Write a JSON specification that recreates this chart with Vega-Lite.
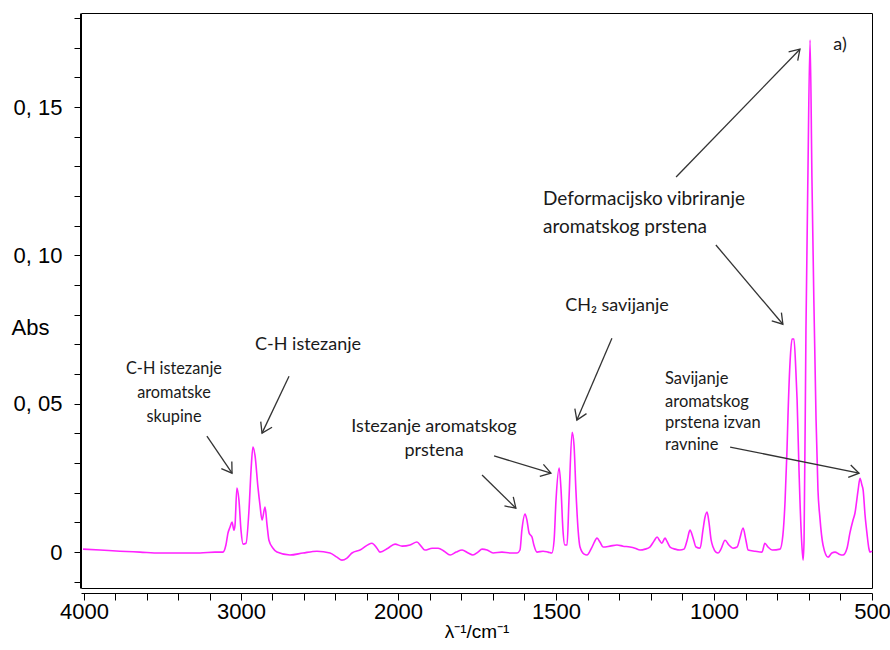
{
  "$schema": "https://vega.github.io/schema/vega-lite/v6.json",
  "width": 791,
  "height": 575,
  "autosize": "none",
  "padding": {"left": 81, "top": 13, "right": 18, "bottom": 62},
  "background": "white",
  "config": {
    "view": {"stroke": "black", "strokeWidth": 1},
    "axis": {"grid": false, "domainColor": "black", "tickColor": "black", "labelColor": "black", "titleColor": "black", "labelFont": "Liberation Sans", "titleFont": "Liberation Sans", "titleFontWeight": "normal"}
  },
  "datasets": {
    "spectrum": [
      {"wn": 4006, "abs": 0.0010}, {"wn": 3898, "abs": 0.0007}, {"wn": 3771, "abs": 0.0003}, {"wn": 3643, "abs": 0.0},
      {"wn": 3516, "abs": -0.0003}, {"wn": 3389, "abs": -0.0003}, {"wn": 3261, "abs": -0.0003}, {"wn": 3166, "abs": 0.0},
      {"wn": 3115, "abs": 0.0}, {"wn": 3096, "abs": 0.0024}, {"wn": 3083, "abs": 0.0064}, {"wn": 3070, "abs": 0.0084},
      {"wn": 3057, "abs": 0.0101}, {"wn": 3045, "abs": 0.0074}, {"wn": 3038, "abs": 0.0091}, {"wn": 3026, "abs": 0.0216},
      {"wn": 3013, "abs": 0.0175}, {"wn": 3000, "abs": 0.0074}, {"wn": 2987, "abs": 0.0027}, {"wn": 2968, "abs": 0.0030},
      {"wn": 2949, "abs": 0.0142}, {"wn": 2936, "abs": 0.0276}, {"wn": 2924, "abs": 0.0354}, {"wn": 2911, "abs": 0.0327},
      {"wn": 2892, "abs": 0.0219}, {"wn": 2879, "abs": 0.0158}, {"wn": 2866, "abs": 0.0108}, {"wn": 2847, "abs": 0.0152},
      {"wn": 2834, "abs": 0.0091}, {"wn": 2822, "abs": 0.0040}, {"wn": 2796, "abs": 0.0013}, {"wn": 2771, "abs": 0.0},
      {"wn": 2688, "abs": -0.0010}, {"wn": 2605, "abs": -0.0003}, {"wn": 2516, "abs": 0.0003}, {"wn": 2433, "abs": -0.0003},
      {"wn": 2389, "abs": -0.0017}, {"wn": 2357, "abs": -0.0027}, {"wn": 2325, "abs": -0.0020}, {"wn": 2293, "abs": -0.0003},
      {"wn": 2242, "abs": 0.0007}, {"wn": 2166, "abs": 0.0030}, {"wn": 2134, "abs": 0.0013}, {"wn": 2115, "abs": 0.0},
      {"wn": 2064, "abs": 0.0013}, {"wn": 2019, "abs": 0.0027}, {"wn": 1987, "abs": 0.0020}, {"wn": 1962, "abs": 0.0024},
      {"wn": 1940, "abs": 0.0034}, {"wn": 1927, "abs": 0.0020}, {"wn": 1915, "abs": 0.0007}, {"wn": 1892, "abs": 0.0013},
      {"wn": 1873, "abs": 0.0013}, {"wn": 1854, "abs": 0.0003}, {"wn": 1835, "abs": -0.0010}, {"wn": 1816, "abs": 0.0},
      {"wn": 1797, "abs": 0.0007}, {"wn": 1778, "abs": -0.0003}, {"wn": 1763, "abs": -0.0010}, {"wn": 1747, "abs": 0.0},
      {"wn": 1734, "abs": 0.0010}, {"wn": 1718, "abs": 0.0007}, {"wn": 1699, "abs": -0.0003}, {"wn": 1671, "abs": 0.0},
      {"wn": 1646, "abs": -0.0003}, {"wn": 1623, "abs": -0.0003}, {"wn": 1614, "abs": 0.0007}, {"wn": 1608, "abs": 0.0074},
      {"wn": 1598, "abs": 0.0128}, {"wn": 1592, "abs": 0.0108}, {"wn": 1585, "abs": 0.0064}, {"wn": 1576, "abs": 0.0051},
      {"wn": 1570, "abs": 0.0024}, {"wn": 1560, "abs": 0.0}, {"wn": 1541, "abs": 0.0003}, {"wn": 1525, "abs": 0.0},
      {"wn": 1513, "abs": -0.0003}, {"wn": 1506, "abs": 0.0040}, {"wn": 1500, "abs": 0.0175}, {"wn": 1490, "abs": 0.0283},
      {"wn": 1484, "abs": 0.0209}, {"wn": 1478, "abs": 0.0074}, {"wn": 1472, "abs": 0.0024}, {"wn": 1465, "abs": 0.0024},
      {"wn": 1459, "abs": 0.0175}, {"wn": 1449, "abs": 0.0404}, {"wn": 1443, "abs": 0.0361}, {"wn": 1437, "abs": 0.0209},
      {"wn": 1430, "abs": 0.0074}, {"wn": 1424, "abs": 0.0017}, {"wn": 1411, "abs": -0.0007}, {"wn": 1402, "abs": -0.0010},
      {"wn": 1386, "abs": 0.0017}, {"wn": 1370, "abs": 0.0047}, {"wn": 1361, "abs": 0.0034}, {"wn": 1351, "abs": 0.0017},
      {"wn": 1329, "abs": 0.0020}, {"wn": 1307, "abs": 0.0024}, {"wn": 1288, "abs": 0.0020}, {"wn": 1266, "abs": 0.0017},
      {"wn": 1250, "abs": 0.0013}, {"wn": 1234, "abs": 0.0007}, {"wn": 1218, "abs": 0.0010}, {"wn": 1203, "abs": 0.0017},
      {"wn": 1190, "abs": 0.0037}, {"wn": 1180, "abs": 0.0051}, {"wn": 1171, "abs": 0.0037}, {"wn": 1165, "abs": 0.0030},
      {"wn": 1155, "abs": 0.0047}, {"wn": 1149, "abs": 0.0037}, {"wn": 1139, "abs": 0.0017}, {"wn": 1123, "abs": 0.0010},
      {"wn": 1108, "abs": 0.0007}, {"wn": 1095, "abs": 0.0010}, {"wn": 1085, "abs": 0.0040}, {"wn": 1076, "abs": 0.0074},
      {"wn": 1066, "abs": 0.0047}, {"wn": 1057, "abs": 0.0017}, {"wn": 1044, "abs": 0.0013}, {"wn": 1035, "abs": 0.0074},
      {"wn": 1029, "abs": 0.0115}, {"wn": 1022, "abs": 0.0135}, {"wn": 1016, "abs": 0.0101}, {"wn": 1009, "abs": 0.0040},
      {"wn": 1003, "abs": 0.0017}, {"wn": 994, "abs": 0.0}, {"wn": 987, "abs": -0.0003}, {"wn": 978, "abs": 0.0010},
      {"wn": 965, "abs": 0.0040}, {"wn": 953, "abs": 0.0024}, {"wn": 940, "abs": 0.0013}, {"wn": 927, "abs": 0.0017},
      {"wn": 918, "abs": 0.0047}, {"wn": 908, "abs": 0.0081}, {"wn": 899, "abs": 0.0040}, {"wn": 892, "abs": 0.0007},
      {"wn": 870, "abs": 0.0003}, {"wn": 848, "abs": 0.0}, {"wn": 839, "abs": 0.0030}, {"wn": 829, "abs": 0.0017},
      {"wn": 816, "abs": 0.0007}, {"wn": 791, "abs": 0.0010}, {"wn": 782, "abs": 0.0057}, {"wn": 775, "abs": 0.0175},
      {"wn": 769, "abs": 0.0344}, {"wn": 766, "abs": 0.0455}, {"wn": 759, "abs": 0.0647}, {"wn": 753, "abs": 0.0718},
      {"wn": 747, "abs": 0.0718}, {"wn": 741, "abs": 0.0613}, {"wn": 737, "abs": 0.0512}, {"wn": 731, "abs": 0.0276},
      {"wn": 728, "abs": 0.0175}, {"wn": 722, "abs": 0.0024}, {"wn": 718, "abs": -0.0027}, {"wn": 715, "abs": 0.0040},
      {"wn": 709, "abs": 0.0748}, {"wn": 703, "abs": 0.1254}, {"wn": 696, "abs": 0.1726}, {"wn": 690, "abs": 0.1254},
      {"wn": 684, "abs": 0.0849}, {"wn": 677, "abs": 0.0445}, {"wn": 671, "abs": 0.0209}, {"wn": 665, "abs": 0.0118},
      {"wn": 655, "abs": 0.0024}, {"wn": 639, "abs": -0.0017}, {"wn": 627, "abs": -0.0003}, {"wn": 617, "abs": 0.0},
      {"wn": 604, "abs": -0.0007}, {"wn": 592, "abs": -0.0010}, {"wn": 579, "abs": 0.0013}, {"wn": 570, "abs": 0.0064},
      {"wn": 560, "abs": 0.0108}, {"wn": 554, "abs": 0.0131}, {"wn": 544, "abs": 0.0209}, {"wn": 538, "abs": 0.0249},
      {"wn": 532, "abs": 0.0226}, {"wn": 528, "abs": 0.0209}, {"wn": 522, "abs": 0.0125}, {"wn": 516, "abs": 0.0064},
      {"wn": 510, "abs": 0.0013}, {"wn": 506, "abs": 0.0}, {"wn": 500, "abs": 0.0003}
    ],
    "arrows": [
      {"wn": 3057, "abs": 0.0266, "wn2": 3217, "abs2": 0.0391, "angle": 55.9},
      {"wn": 2866, "abs": 0.0401, "wn2": 2694, "abs2": 0.0593, "angle": 116.6},
      {"wn": 1627, "abs": 0.0148, "wn2": 1734, "abs2": 0.0260, "angle": 44.1},
      {"wn": 1516, "abs": 0.0266, "wn2": 1696, "abs2": 0.0324, "angle": 16.6},
      {"wn": 1434, "abs": 0.0445, "wn2": 1323, "abs2": 0.0721, "angle": 113.1},
      {"wn": 728, "abs": 0.1695, "wn2": 1120, "abs2": 0.1264, "angle": 314.1},
      {"wn": 782, "abs": 0.0768, "wn2": 994, "abs2": 0.1035, "angle": 49.7},
      {"wn": 541, "abs": 0.0266, "wn2": 949, "abs2": 0.0354, "angle": 11.4}
    ],
    "labels": [
      {"wn": 3427, "abs": 0.0617, "text": "C-H istezanje", "group": "c16"},
      {"wn": 3427, "abs": 0.0536, "text": "aromatske", "group": "c16"},
      {"wn": 3427, "abs": 0.0455, "text": "skupine", "group": "c16"},
      {"wn": 2573, "abs": 0.0698, "text": "C-H istezanje", "group": "c18"},
      {"wn": 1886, "abs": 0.0421, "text": "Istezanje aromatskog", "group": "c18"},
      {"wn": 1886, "abs": 0.0340, "text": "prstena", "group": "c18"},
      {"wn": 1307, "abs": 0.0829, "text": "CH₂ savijanje", "group": "c18"},
      {"wn": 1541, "abs": 0.1190, "text": "Deformacijsko vibriranje", "group": "l19"},
      {"wn": 1541, "abs": 0.1095, "text": "aromatskog prstena", "group": "l19"},
      {"wn": 1155, "abs": 0.0583, "text": "Savijanje", "group": "l16"},
      {"wn": 1155, "abs": 0.0506, "text": "aromatskog", "group": "l16"},
      {"wn": 1155, "abs": 0.0435, "text": "prstena izvan", "group": "l16"},
      {"wn": 1155, "abs": 0.0361, "text": "ravnine", "group": "l16"},
      {"wn": 601, "abs": 0.1709, "text": "a)", "group": "c18"}
    ]
  },
  "encoding": {
    "x": {
      "field": "wn", "type": "quantitative",
      "scale": {"domain": [4019, 2000, 500], "range": [0, 317, 791], "nice": false, "zero": false},
      "axis": {
        "title": "λ⁻¹/cm⁻¹", "titleFontSize": 19, "titlePadding": 0,
        "values": [4000, 3800, 3600, 3400, 3200, 3000, 2800, 2600, 2400, 2200, 2000, 1900, 1800, 1700, 1600, 1500, 1400, 1300, 1200, 1100, 1000, 900, 800, 700, 600, 500],
        "format": "d",
        "labelExpr": "indexof([4000,3000,2000,1500,1000,500], datum.value) >= 0 ? datum.label : ''",
        "labelOverlap": false, "labelFlush": false, "labelFontSize": 22, "labelPadding": 1,
        "tickSize": 7, "offset": 5
      }
    },
    "y": {
      "field": "abs", "type": "quantitative",
      "scale": {"domain": [-0.0121, 0.1817], "nice": false, "zero": false},
      "axis": {
        "title": "Abs", "titleAngle": 0, "titleAlign": "left", "titleBaseline": "middle", "titleX": -69, "titleY": 314, "titleFontSize": 22,
        "values": [-0.01, 0, 0.01, 0.02, 0.03, 0.04, 0.05, 0.06, 0.07, 0.08, 0.09, 0.1, 0.11, 0.12, 0.13, 0.14, 0.15, 0.16, 0.17, 0.18],
        "labelExpr": "round(datum.value*100) % 5 == 0 ? (round(datum.value*100) == 0 ? '0' : replace(format(datum.value, '.2f'), '.', ', ')) : ''",
        "labelOverlap": false, "labelFontSize": 22, "labelPadding": 12, "tickSize": 6, "offset": 1
      }
    }
  },
  "layer": [
    {
      "data": {"name": "spectrum"},
      "mark": {"type": "line", "color": "#ff22ff", "strokeWidth": 1.6, "interpolate": "monotone"}
    },
    {
      "data": {"name": "arrows"},
      "mark": {"type": "rule", "color": "#333333", "strokeWidth": 1.3},
      "encoding": {"x2": {"field": "wn2"}, "y2": {"field": "abs2"}}
    },
    {
      "data": {"name": "arrows"},
      "mark": {"type": "point", "shape": "M -1 -0.65 L 0 0 L -1 0.65", "filled": false, "stroke": "#333333", "strokeWidth": 1.3, "size": 380, "opacity": 1},
      "encoding": {"angle": {"field": "angle", "type": "quantitative", "scale": null}}
    },
    {
      "data": {"name": "labels"},
      "transform": [{"filter": "datum.group == 'c18'"}],
      "mark": {"type": "text", "font": "Lato", "fontSize": 18, "align": "center", "baseline": "middle", "color": "#1a1a1a"},
      "encoding": {"text": {"field": "text"}}
    },
    {
      "data": {"name": "labels"},
      "transform": [{"filter": "datum.group == 'l19'"}],
      "mark": {"type": "text", "font": "Lato", "fontSize": 19, "align": "left", "baseline": "middle", "color": "#1a1a1a"},
      "encoding": {"text": {"field": "text"}}
    },
    {
      "data": {"name": "labels"},
      "transform": [{"filter": "datum.group == 'c16'"}],
      "mark": {"type": "text", "font": "Lato", "fontSize": 16.3, "align": "center", "baseline": "middle", "color": "#1a1a1a"},
      "encoding": {"text": {"field": "text"}}
    },
    {
      "data": {"name": "labels"},
      "transform": [{"filter": "datum.group == 'l16'"}],
      "mark": {"type": "text", "font": "Lato", "fontSize": 16.5, "align": "left", "baseline": "middle", "color": "#1a1a1a"},
      "encoding": {"text": {"field": "text"}}
    }
  ]
}
